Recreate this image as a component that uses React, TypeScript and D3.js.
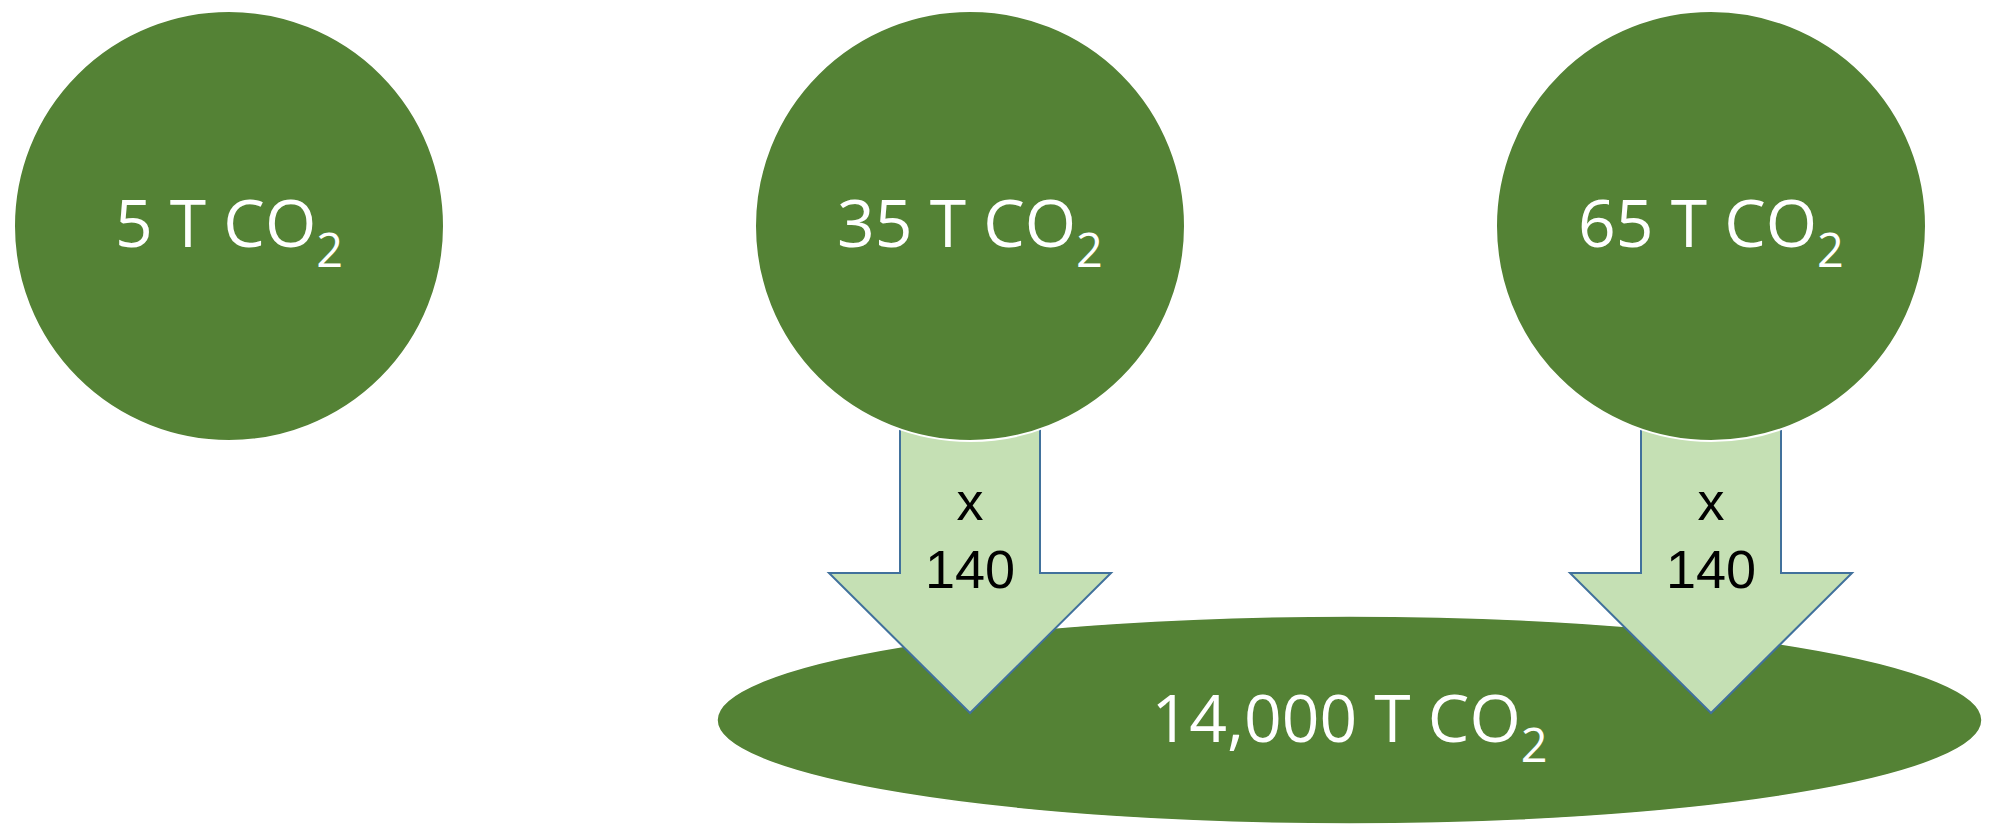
import React from "react";
import * as d3 from "d3";

// Emission sources (tonnes of CO2) and which of them are scaled up
const sourceNames = ["a", "b", "c"];
const sourceValues = [5, 35, 65];
const scaledSources = ["b", "c"];
const multipliers = [140, 140];
const totalValue = [14000];

const W = 1995;
const H = 824;

const GREEN = "#548235";
const ARROW_FILL = "#C5E0B4";
const ARROW_STROKE = "#41719C";
const LABEL_FONT = "'Open Sans', 'Noto Sans', sans-serif";
const ARROW_FONT = "'Liberation Sans', Arial, sans-serif";

const fmt = d3.format(",");

function Co2Label({ x, y, value, size }: { x: number; y: number; value: number; size: number }) {
  return (
    <text
      x={x}
      y={y}
      textAnchor="middle"
      fill="#fff"
      fontFamily={LABEL_FONT}
      fontSize={size}
    >
      <tspan>{`${fmt(value)} T CO`}</tspan>
      <tspan fontSize={size * 0.71} dy={20}>2</tspan>
    </text>
  );
}

export default function App() {
  const x = d3.scalePoint<string>().domain(sourceNames).range([229, 1711]);
  const r = 215;
  const cy = 226;

  // Target ellipse sits between the scaled sources
  const ellipseX = d3
    .scaleLinear()
    .domain([0, 1])
    .range([717, 1982]);
  const ecx = (ellipseX(0) + ellipseX(1)) / 2;
  const erx = (ellipseX(1) - ellipseX(0)) / 2;
  const ecy = 720;
  const ery = 104;

  const arrowPath = (cx: number) => {
    const shaftHalf = 70;
    const headHalf = 141;
    const top = 420;
    const shoulder = 573;
    const tip = 713;
    const p = d3.path();
    p.moveTo(cx - shaftHalf, top);
    p.lineTo(cx + shaftHalf, top);
    p.lineTo(cx + shaftHalf, shoulder);
    p.lineTo(cx + headHalf, shoulder);
    p.lineTo(cx, tip);
    p.lineTo(cx - headHalf, shoulder);
    p.lineTo(cx - shaftHalf, shoulder);
    p.closePath();
    return p.toString();
  };

  return (
    <svg
      width={W}
      height={H}
      style={{ position: "absolute", left: 0, top: 0, display: "block" }}
    >
      <rect width={W} height={H} fill="#fff" />

      {/* total */}
      <ellipse cx={ecx} cy={ecy} rx={erx} ry={ery} fill={GREEN} stroke="#fff" strokeWidth={1.5} />
      <Co2Label x={ecx} y={742} value={totalValue[0]} size={66} />

      {/* multiplier arrows */}
      {scaledSources.map((name, i) => {
        const cx = x(name) as number;
        return (
          <g key={`arrow-${name}`}>
            <path d={arrowPath(cx)} fill={ARROW_FILL} stroke={ARROW_STROKE} strokeWidth={2} />
            <text
              x={cx}
              y={520}
              textAnchor="middle"
              fontFamily={ARROW_FONT}
              fontSize={54}
              fill="#000"
            >
              x
            </text>
            <text
              x={cx}
              y={588}
              textAnchor="middle"
              fontFamily={ARROW_FONT}
              fontSize={54}
              fill="#000"
            >
              {multipliers[i]}
            </text>
          </g>
        );
      })}

      {/* sources */}
      {sourceNames.map((name, i) => {
        const cx = x(name) as number;
        return (
          <g key={`src-${name}`}>
            <circle cx={cx} cy={cy} r={r} fill={GREEN} stroke="#fff" strokeWidth={2} />
            <Co2Label x={cx} y={247} value={sourceValues[i]} size={66} />
          </g>
        );
      })}
    </svg>
  );
}
